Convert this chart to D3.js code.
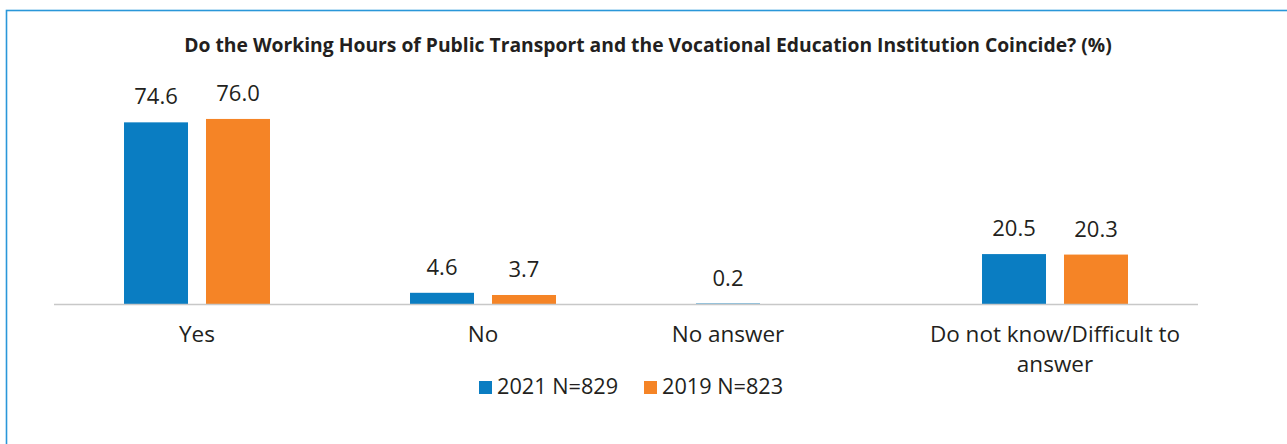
<!DOCTYPE html>
<html>
<head>
<meta charset="utf-8">
<script src="https://cdn.jsdelivr.net/npm/d3@7"></script>
<style>
  html, body { margin: 0; padding: 0; background: #fff; }
  svg { display: block; }
</style>
</head>
<body>
<svg id="chart" width="1287" height="444"></svg>
<script>
// Survey answers, percent of respondents
const categories = ["Yes", "No", "No answer", "Do not know/Difficult to answer"];
const seriesNames = ["2021 N=829", "2019 N=823"];
const values2021 = [74.6, 4.6, 0.2, 20.5];
const values2019 = [76.0, 3.7, null, 20.3];
const titleText = "Do the Working Hours of Public Transport and the Vocational Education Institution Coincide? (%)";

const colors = ["#0a7dc2", "#f58426"];
const fontMain = "'Open Sans', 'Noto Sans', sans-serif";
const textColor = "#231f20";

const svg = d3.select("#chart");
const W = 1287, H = 444;

// frame around the chart area (extends past right and bottom edges)
svg.append("rect")
  .attr("x", 6.5).attr("y", 10.5)
  .attr("width", W + 20).attr("height", H + 20)
  .attr("fill", "none")
  .attr("stroke", "#2a97d9")
  .attr("stroke-width", 1.6);

svg.append("text")
  .attr("x", 648).attr("y", 52)
  .attr("text-anchor", "middle")
  .attr("font-family", fontMain)
  .attr("font-weight", 700)
  .attr("font-size", 19.3)
  .attr("fill", textColor)
  .text(titleText);

const plot = { left: 54, right: 1198, baseline: 304 };

const x = d3.scaleBand()
  .domain(categories)
  .range([plot.left, plot.right])
  .paddingInner(0).paddingOuter(0);

const bw = x.bandwidth();
const xs = d3.scaleBand()
  .domain(seriesNames)
  .range([bw * 0.2448, bw * 0.7552])
  .paddingInner(0.2195).paddingOuter(0);

const y = d3.scaleLinear()
  .domain([0, 80])
  .range([plot.baseline, plot.baseline - 80 * 2.435]);

const rows = categories.map((c, i) => ({
  category: c,
  bars: [
    { series: seriesNames[0], value: values2021[i], color: colors[0] },
    { series: seriesNames[1], value: values2019[i], color: colors[1] }
  ].filter(b => b.value !== null)
}));

const groups = svg.append("g").selectAll("g")
  .data(rows).join("g")
  .attr("transform", d => `translate(${x(d.category)},0)`);

groups.selectAll("rect")
  .data(d => d.bars).join("rect")
  .attr("x", b => xs(b.series))
  .attr("width", xs.bandwidth())
  .attr("y", b => y(b.value))
  .attr("height", b => y(0) - y(b.value))
  .attr("fill", b => b.color);

groups.selectAll("text.val")
  .data(d => d.bars).join("text")
  .attr("class", "val")
  .attr("x", b => xs(b.series) + xs.bandwidth() / 2)
  .attr("y", b => y(b.value) - 18)
  .attr("text-anchor", "middle")
  .attr("font-family", fontMain)
  .attr("font-size", 22)
  .attr("fill", textColor)
  .text(b => b.value.toFixed(1));

// category axis
const axis = svg.append("g")
  .attr("transform", `translate(0,${plot.baseline})`)
  .call(d3.axisBottom(x).tickSize(0).tickPadding(0));
axis.select(".domain").attr("stroke", "#c8c8c8").attr("stroke-width", 1.3)
  .attr("d", `M${plot.left},0.5H${plot.right}`);

// centre each label under the bars that are present
axis.selectAll(".tick").each(function(c) {
  const row = rows.find(r => r.category === c);
  const xsPos = row.bars.map(b => xs(b.series) + xs.bandwidth() / 2);
  const cx = x(c) + (d3.min(xsPos) + d3.max(xsPos)) / 2;
  d3.select(this).attr("transform", `translate(${cx},0)`);
});

axis.selectAll(".tick text")
  .attr("font-family", fontMain)
  .attr("font-size", 22.5)
  .attr("fill", textColor)
  .attr("y", 38)
  .attr("dy", 0)
  .each(function(c) { wrap(d3.select(this), c, bw - 10); });

function wrap(sel, str, width) {
  const words = str.split(" ");
  sel.text(null);
  let line = [];
  let tspan = sel.append("tspan").attr("x", 0).attr("dy", 0);
  for (const w of words) {
    line.push(w);
    tspan.text(line.join(" "));
    if (tspan.node().getComputedTextLength() > width && line.length > 1) {
      line.pop();
      tspan.text(line.join(" "));
      line = [w];
      tspan = sel.append("tspan").attr("x", 0).attr("dy", 30).text(w);
    }
  }
}

// legend
const legend = svg.append("g");
const legendX = [479, 644];
seriesNames.forEach((s, i) => {
  const g = legend.append("g").attr("transform", `translate(${legendX[i]},381)`);
  g.append("rect").attr("width", 13).attr("height", 13).attr("fill", colors[i]);
  g.append("text")
    .attr("x", 18).attr("y", 13)
    .attr("font-family", fontMain)
    .attr("font-size", 21.7)
    .attr("fill", textColor)
    .text(s);
});
</script>
</body>
</html>
